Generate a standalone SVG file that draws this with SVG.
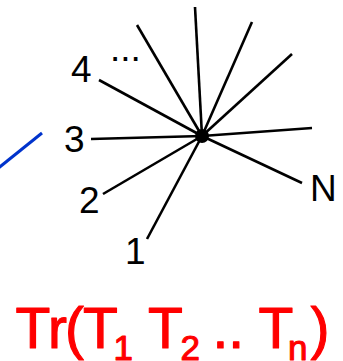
<svg xmlns="http://www.w3.org/2000/svg" width="343" height="361" viewBox="0 0 343 361">
<style>
.e{stroke:#000;stroke-width:2.6;stroke-linecap:butt;fill:none}
.lbl{font-family:"Liberation Sans",Arial,sans-serif;font-size:37px;fill:#000}
.red{font-family:"Liberation Sans",Arial,sans-serif;fill:#FF0000;stroke:#FF0000;stroke-width:1.1;stroke-linejoin:round}
</style>
<rect width="343" height="361" fill="#fff"/>
<g id="connectors">
<line class="e" x1="202" y1="136" x2="195" y2="7"/>
<line class="e" x1="202" y1="136" x2="137" y2="25"/>
<line class="e" x1="202" y1="136" x2="252" y2="22"/>
<line class="e" x1="202" y1="136" x2="292" y2="54"/>
<line class="e" x1="202" y1="136" x2="99" y2="80"/>
<line class="e" x1="202" y1="136" x2="312" y2="128"/>
<line class="e" x1="202" y1="136" x2="91" y2="139"/>
<line class="e" x1="202" y1="136" x2="302" y2="183"/>
<line class="e" x1="202" y1="136" x2="103" y2="194"/>
<line class="e" x1="202" y1="136" x2="147" y2="239"/>
<line x1="42" y1="133" x2="-4" y2="170" stroke="#0033CC" stroke-width="3"/>
</g>
<g id="vertex"><circle cx="202" cy="136" r="7" fill="#000"/></g>
<g id="label-4"><text class="lbl" x="71" y="82">4</text></g>
<g id="label-dots"><text class="lbl" x="110" y="61">...</text></g>
<g id="label-3"><text class="lbl" x="64" y="152">3</text></g>
<g id="label-2"><text class="lbl" x="79" y="213">2</text></g>
<g id="label-1"><text class="lbl" x="125" y="264">1</text></g>
<g id="label-N"><text class="lbl" x="310" y="201">N</text></g>
<g id="formula">
<text class="red" font-size="57" y="348"><tspan x="15.5">T</tspan><tspan x="48">r</tspan><tspan x="65">(</tspan><tspan x="83">T</tspan><tspan x="113.5" y="360" font-size="35">1</tspan><tspan x="148" y="348">T</tspan><tspan x="180.5" y="360" font-size="35">2</tspan><tspan x="212.5" y="348">..</tspan><tspan x="258.5">T</tspan><tspan x="288" y="360" font-size="35">n</tspan><tspan x="310.5" y="348">)</tspan></text>
</g>
</svg>
